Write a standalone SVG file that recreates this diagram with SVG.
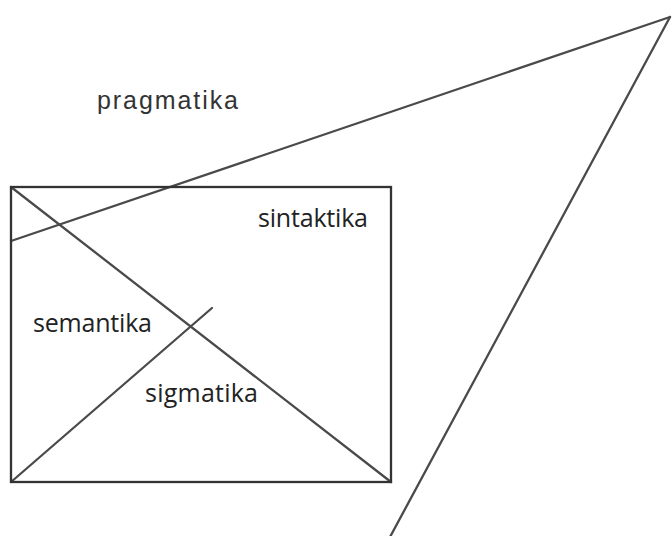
<svg xmlns="http://www.w3.org/2000/svg" width="672" height="536" viewBox="0 0 672 536">
<style>
.ln{stroke:#4a4a4a;stroke-width:2.3;fill:none;stroke-linecap:round}
.box{stroke:#333;stroke-width:2.3;fill:none}
.t{font-family:"Open Sans","Noto Sans",sans-serif;font-size:25px;fill:#222}
.p{font-family:"Liberation Sans",Arial,sans-serif;font-size:25px;fill:#333}
</style>
<rect width="672" height="536" fill="#fff"/>
<g id="connectors">
<line class="ln" x1="11" y1="241" x2="670" y2="17"/>
<line class="ln" x1="670" y1="17" x2="390" y2="537"/>
<line class="ln" x1="11" y1="187" x2="391" y2="482"/>
<line class="ln" x1="11" y1="482" x2="212" y2="308"/>
</g>
<g id="rect"><rect class="box" x="11" y="187" width="380" height="295"/></g>
<g id="pragmatika"><text class="p" x="97" y="109" textLength="141" lengthAdjust="spacing">pragmatika</text></g>
<g id="sintaktika"><text class="t" x="258" y="227" textLength="110" lengthAdjust="spacing">sintaktika</text></g>
<g id="semantika"><text class="t" x="33" y="332" textLength="119" lengthAdjust="spacing">semantika</text></g>
<g id="sigmatika"><text class="t" x="145" y="402" textLength="113" lengthAdjust="spacing">sigmatika</text></g>
</svg>
